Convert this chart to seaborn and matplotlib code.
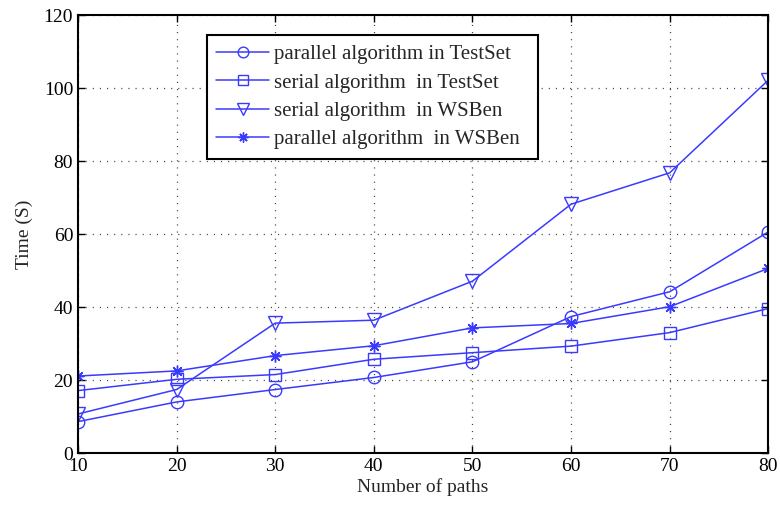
import pandas as pd
import numpy as np
import seaborn as sns
import matplotlib.pyplot as plt

# ---- data ----
paths = [10, 20, 30, 40, 50, 60, 70, 80]
parallel_testset = [8.6, 14.0, 17.4, 20.7, 25.0, 37.4, 44.2, 60.6]
serial_testset = [17.1, 20.2, 21.5, 25.7, 27.5, 29.3, 33.0, 39.6]
serial_wsben = [10.7, 17.4, 35.6, 36.4, 47.1, 68.2, 76.8, 102.2]
parallel_wsben = [21.1, 22.5, 26.7, 29.4, 34.3, 35.5, 40.1, 50.6]

labels = ['parallel algorithm in TestSet',
          'serial algorithm  in TestSet',
          'serial algorithm  in WSBen',
          'parallel algorithm  in WSBen']
series = [parallel_testset, serial_testset, serial_wsben, parallel_wsben]
markers = ['o', 's', 'v', (8, 2, 0)]
msizes = [9, 8, 10, 8.5]

sns.set_style('ticks')
plt.rcParams['font.family'] = ['Liberation Serif', 'DejaVu Serif']

fig = plt.figure(figsize=(7.8, 5.07), dpi=100)
ax = fig.add_axes([0.1, 0.1065, 0.885, 0.8635])

blue = '#3a3aff'
for vals, lab, mk, ms in zip(series, labels, markers, msizes):
    df = pd.DataFrame({'paths': paths, 'time': vals})
    sns.lineplot(data=df, x='paths', y='time', ax=ax, color=blue, lw=1.1,
                 marker=mk, markersize=ms,
                 markerfacecolor='none', markeredgecolor=blue,
                 markeredgewidth=1.0, label=lab)

ax.set_xlim(10, 80)
ax.set_ylim(0, 120)
ax.set_xticks(paths)
ax.set_yticks(np.arange(0, 121, 20))
ax.grid(True, linestyle=(0, (0.9, 4.8)), color='#444444', linewidth=0.9)
ax.tick_params(direction='in', top=True, right=True, length=5, width=1,
               labelsize=14, colors='black')
for sp in ax.spines.values():
    sp.set_linewidth(1.5)
    sp.set_color('black')

ax.set_xlabel('Number of paths', fontsize=14, labelpad=2)
ax.set_ylabel('Time (S)', fontsize=14, labelpad=8)

leg = ax.legend(loc='upper left', bbox_to_anchor=(0.187, 0.954, 0.48, 0.0),
                mode='expand', fontsize=15, markerscale=0.85,
                frameon=True, fancybox=False, edgecolor='black',
                handlelength=2.5, borderpad=0.45, labelspacing=0.42,
                handletextpad=0.25, borderaxespad=0)
leg.get_frame().set_linewidth(1.5)
leg.get_frame().set_alpha(1)

plt.savefig('out.png', dpi=100)
